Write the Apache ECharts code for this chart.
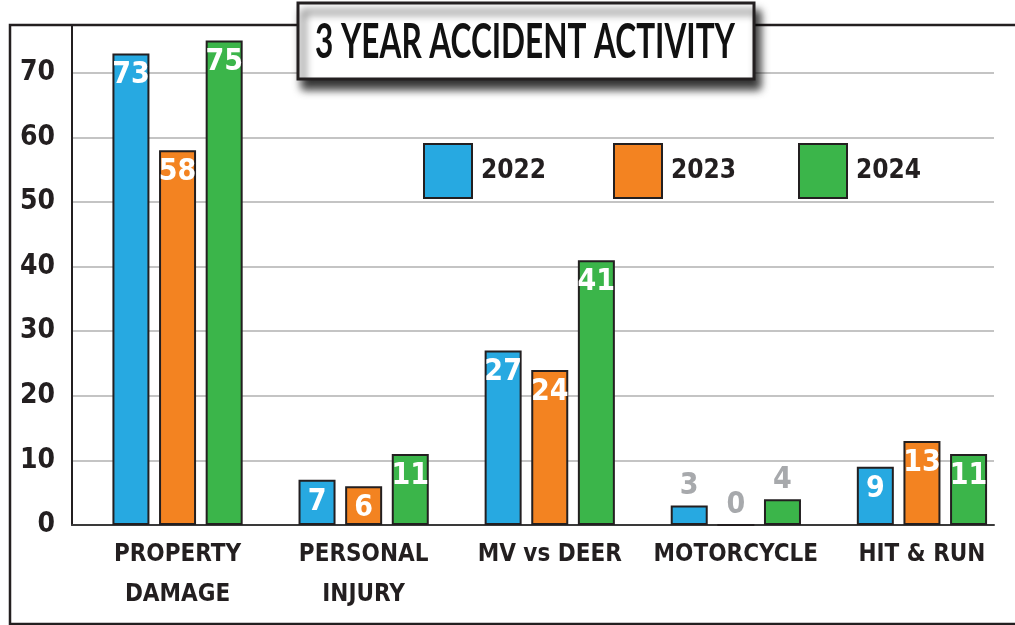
<!DOCTYPE html>
<html>
<head>
<meta charset="utf-8">
<title>3 Year Accident Activity</title>
<script src="https://cdn.jsdelivr.net/npm/echarts@6/dist/echarts.min.js"></script>
<style>
  html, body { margin: 0; padding: 0; background: #fff; }
  #chart { width: 1015px; height: 625px; }
</style>
</head>
<body>
<div id="chart"></div>
<script>
const categories = ['PROPERTY\nDAMAGE', 'PERSONAL\nINJURY', 'MV vs DEER', 'MOTORCYCLE', 'HIT & RUN'];
const years = ['2022', '2023', '2024'];
const values2022 = [73, 7, 27, 3, 9];
const values2023 = [58, 6, 24, 0, 13];
const values2024 = [75, 11, 41, 4, 11];
const yTicks = [0, 10, 20, 30, 40, 50, 60, 70];
const titleText = '3 YEAR ACCIDENT ACTIVITY';

const colors = ['#27a9e1', '#f38321', '#3bb54a'];
const ink = '#231f20';
const narrow = '"DejaVu Sans Condensed", "Liberation Sans Narrow", sans-serif';
const titleFont = 'bold 48px Lato, "Open Sans", sans-serif';

// small bars get a grey label above the bar
const toData = (values) => values.map((v) => {
  if (v >= 5) return v;
  return {
    value: v,
    label: { position: 'top', distance: 4, color: '#a7a9ac' },
  };
});

const seriesValues = [values2022, values2023, values2024];

const series = years.map((year, i) => ({
  name: year,
  type: 'bar',
  xAxisIndex: 1,
  yAxisIndex: 1,
  barWidth: 37,
  barGap: '26%',
  data: toData(seriesValues[i]),
  itemStyle: { color: colors[i], borderColor: ink, borderWidth: 2 },
  label: {
    show: true,
    position: 'insideTop',
    distance: 7,
    color: '#fff',
    fontFamily: narrow,
    fontWeight: 'bold',
    fontSize: 30,
  },
}));

// one legend per year so each swatch sits where the original has it
const legendLefts = [423, 613, 798];
const legends = years.map((year, i) => ({
  data: [year],
  left: legendLefts[i],
  top: 143,
  padding: 0,
  icon: 'rect',
  itemWidth: 48,
  itemHeight: 54,
  itemGap: 0,
  textStyle: { color: ink, fontFamily: narrow, fontWeight: 'bold', fontSize: 26, padding: [0, 0, 0, 4] },
}));

// squeeze the title to the width of its box
const measureCtx = document.createElement('canvas').getContext('2d');
measureCtx.font = titleFont;
const titleScale = Math.min(1, 420 / measureCtx.measureText(titleText).width);

const chart = echarts.init(document.getElementById('chart'), null, { renderer: 'canvas' });

chart.setOption({
  animation: false,
  backgroundColor: '#fff',
  grid: [
    { left: 72, right: 21, top: 25, bottom: 100 },
    { left: 84.5, right: 0, top: 25, bottom: 100 },
  ],
  legend: legends,
  xAxis: [
    {
      gridIndex: 0,
      type: 'category',
      data: categories,
      axisLine: { lineStyle: { color: '#3a3a3a', width: 2 } },
      axisTick: { show: false },
      axisLabel: { show: false },
    },
    {
      gridIndex: 1,
      type: 'category',
      data: categories,
      axisLine: { show: false },
      axisTick: { show: false },
      axisLabel: {
        interval: 0,
        margin: 10,
        color: ink,
        fontFamily: narrow,
        fontWeight: 'bold',
        fontSize: 24,
        lineHeight: 40,
      },
    },
  ],
  yAxis: [
    {
      gridIndex: 0,
      type: 'value',
      min: yTicks[0],
      max: 77.4,
      interval: 10,
      axisLine: { show: true, lineStyle: { color: ink, width: 2 } },
      axisTick: { show: false },
      axisLabel: {
        margin: 17,
        showMaxLabel: false,
        color: ink,
        fontFamily: narrow,
        fontWeight: 'bold',
        fontSize: 28,
        formatter: (v) => (yTicks.includes(v) ? String(v) : ''),
      },
      splitLine: { lineStyle: { color: '#c4c4c4', width: 2 } },
    },
    {
      gridIndex: 1,
      type: 'value',
      min: 0,
      max: 77.4,
      show: false,
      splitLine: { show: false },
    },
  ],
  series,
  graphic: [
    {
      type: 'rect',
      z: 50,
      silent: true,
      shape: { x: 10, y: 25, width: 1020, height: 599 },
      style: { fill: null, stroke: ink, lineWidth: 2.5 },
    },
    {
      type: 'rect',
      z: 60,
      silent: true,
      shape: { x: 298, y: 3, width: 456, height: 76 },
      style: {
        fill: '#fff',
        stroke: ink,
        lineWidth: 3,
        shadowColor: 'rgba(0,0,0,0.8)',
        shadowBlur: 8,
        shadowOffsetX: 5,
        shadowOffsetY: 9,
      },
    },
    {
      type: 'text',
      z: 61,
      silent: true,
      x: 525,
      y: 43,
      scaleX: titleScale,
      style: {
        text: titleText,
        fill: '#111',
        font: titleFont,
        align: 'center',
        verticalAlign: 'middle',
      },
    },
  ],
});
</script>
</body>
</html>
